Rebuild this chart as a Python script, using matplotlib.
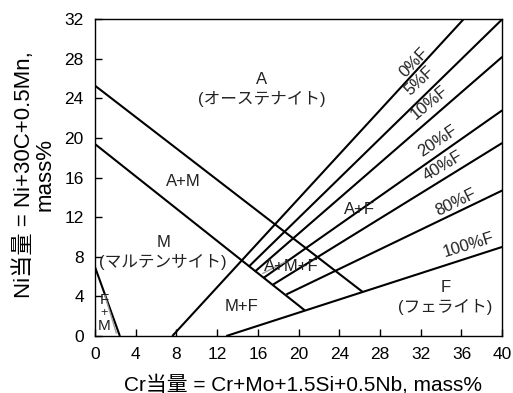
import matplotlib
matplotlib.use("Agg")
import matplotlib.pyplot as plt

plt.rcParams['font.family'] = ['Liberation Sans', 'Noto Sans CJK JP', 'DejaVu Sans']

# Boundary lines: (x0, y0, x1, y1) in Cr-eq / Ni-eq
line_names = ["A", "M", "FM", "F0", "F5", "F10", "F20", "F40", "F80", "F100"]
line_x0 = [0.0, 0.0, 0.0, 7.6, 15.1, 15.7, 16.6, 17.5, 18.8, 12.9]
line_y0 = [25.3, 19.4, 7.0, 0.0, 7.0, 6.5, 5.9, 5.2, 4.2, 0.0]
line_x1 = [26.3, 20.6, 2.45, 36.2, 40.0, 40.0, 40.0, 40.0, 40.0, 40.0]
line_y1 = [4.45, 2.6, 0.0, 32.0, 32.0, 28.2, 22.8, 19.5, 14.7, 9.0]

# faint gray strokes visible in the original figure
gray_x0 = [0.98, 16.5]
gray_y0 = [4.1, 6.33]
gray_x1 = [2.1, 18.7]
gray_y1 = [0.3, 7.5]

# Ferrite % labels
f_labels = ["0%F", "5%F", "10%F", "20%F", "40%F", "80%F", "100%F"]
f_lab_x = [31.3, 31.9, 32.9, 33.7, 34.2, 35.4, 36.7]
f_lab_y = [27.6, 25.8, 23.6, 19.7, 17.2, 13.5, 9.2]
f_lab_rot = [46, 44, 40, 34, 31, 26, 17]

# Region labels
reg_text = ["A\n(オーステナイト)", "A+M", "M\n(マルテンサイト)", "A+F", "A+M+F",
            "M+F", "F\n(フェライト)"]
reg_x = [16.4, 8.7, 6.7, 26.0, 19.3, 14.4, 34.4]
reg_y = [24.9, 15.6, 8.45, 12.8, 7.0, 3.0, 3.9]

# small stacked "F + M" label near the origin
fm_text = ["F", "+", "M"]
fm_x = [0.9, 0.9, 0.9]
fm_y = [3.64, 2.37, 1.0]

x_ticks = list(range(0, 41, 4))
y_ticks = list(range(0, 33, 4))

fig = plt.figure(figsize=(5.13, 3.93), dpi=100)
ax = fig.add_axes([0.185, 0.145, 0.794, 0.806])

for x0, y0, x1, y1 in zip(line_x0, line_y0, line_x1, line_y1):
    ax.plot([x0, x1], [y0, y1], color="black", lw=1.5, solid_capstyle="butt")

for x0, y0, x1, y1 in zip(gray_x0, gray_y0, gray_x1, gray_y1):
    ax.plot([x0, x1], [y0, y1], color="#a0a0a0", lw=1.0)

for t, x, y, r in zip(f_labels, f_lab_x, f_lab_y, f_lab_rot):
    ax.text(x, y, t, rotation=r, ha="center", va="center", fontsize=12,
            color="#222222", rotation_mode="anchor")

for t, x, y in zip(reg_text, reg_x, reg_y):
    ax.text(x, y, t, ha="center", va="center", fontsize=12, color="#222222",
            linespacing=1.35)

for t, x, y in zip(fm_text, fm_x, fm_y):
    ax.text(x, y, t, ha="center", va="center",
            fontsize=9 if t == "+" else 11, color="#222222")

ax.set_xlim(0, 40)
ax.set_ylim(0, 32)
ax.set_xticks(x_ticks)
ax.set_yticks(y_ticks)
ax.tick_params(direction="in", length=5, labelsize=12.5, width=1, pad=8)
for s in ax.spines.values():
    s.set_linewidth(1.0)

ax.set_xlabel("Cr当量 = Cr+Mo+1.5Si+0.5Nb, mass%", fontsize=15, va="center")
ax.xaxis.set_label_coords(0.51, -0.152)
ax.set_ylabel("Ni当量 = Ni+30C+0.5Mn,\nmass%", fontsize=16, va="center",
              linespacing=1.0)
ax.yaxis.set_label_coords(-0.148, 0.51)

fig.savefig("out.png", dpi=100)
